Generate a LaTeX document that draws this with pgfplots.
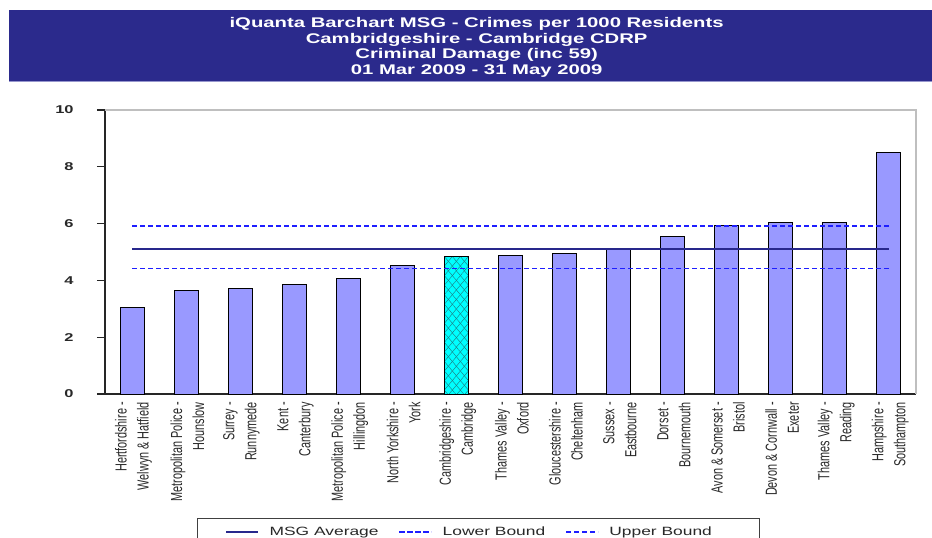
\documentclass[border=0pt]{standalone}
\usepackage{fontspec}
\setmainfont{Liberation Sans}
\newfontfamily\widefont[FakeStretch=1.45]{Liberation Sans}
\newfontfamily\labelfont[FakeStretch=0.68]{Liberation Sans}
\usepackage{pgfplots}
\pgfplotsset{compat=1.18}
\usetikzlibrary{patterns.meta}
\definecolor{banner}{RGB}{43,42,140}
\definecolor{bannerline}{RGB}{150,150,205}
\definecolor{barblue}{RGB}{153,153,255}
\definecolor{navy}{RGB}{40,40,140}
\definecolor{dashblue}{RGB}{30,30,255}
\definecolor{txt}{RGB}{40,40,40}
\definecolor{hatch}{RGB}{30,120,125}
\definecolor{cyanfill}{RGB}{0,255,255}

\pgfplotstableread{
x y
1 3.03
2 3.66
3 3.73
4 3.84
5 4.05
6 4.54
8 4.88
9 4.96
10 5.10
11 5.56
12 5.92
13 6.03
14 6.03
15 8.51
}\bars
\pgfplotstableread{
x y
7 4.83
}\cambs

\begin{document}
\begin{tikzpicture}
% banner
\fill[banner] (6.75pt,-7.5pt) rectangle (699pt,-61.5pt);
\draw[bannerline, line width=0.75pt] (6.75pt,-61.5pt) -- (699pt,-61.5pt);
\node[align=center, text=white, inner sep=0pt,
      font=\widefont\bfseries\fontsize{10.5}{11.8}\selectfont]
  at (357.5pt,-35.5pt)
  {iQuanta Barchart MSG - Crimes per 1000 Residents\\
   Cambridgeshire - Cambridge CDRP\\
   Criminal Damage (inc 59)\\
   01 Mar 2009 - 31 May 2009};

\begin{axis}[
  at={(78.75pt,-295.5pt)}, anchor=south west,
  scale only axis, width=608.25pt, height=213pt,
  xmin=0.5, xmax=15.5, ymin=0, ymax=10,
  axis x line=bottom, axis y line=left,
  axis line style={-, black!85, line width=0.8pt},
  tick align=outside, major tick length=6pt, minor tick length=6pt,
  ytick={0,2,4,6,8,10},
  xtick={1,...,15},
  minor xtick={0.5,1.5,...,15.5},
  xtick style={draw=none},
  minor x tick style={black!85, line width=0.8pt},
  ytick style={black!85, line width=0.8pt},
  /pgf/number format/assume math mode=true,
  yticklabel style={font=\widefont\bfseries\fontsize{8.5}{10}\selectfont, text=txt, anchor=east, xshift=-14pt},
  xticklabels={{Hertfordshire -\\Welwyn \& Hatfield},
               {Metropolitan Police -\\Hounslow},
               {Surrey -\\Runnymede},
               {Kent -\\Canterbury},
               {Metropolitan Police -\\Hillingdon},
               {North Yorkshire -\\York},
               {Cambridgeshire -\\Cambridge},
               {Thames Valley -\\Oxford},
               {Gloucestershire -\\Cheltenham},
               {Sussex -\\Eastbourne},
               {Dorset -\\Bournemouth},
               {Avon \& Somerset -\\Bristol},
               {Devon \& Cornwall -\\Exeter},
               {Thames Valley -\\Reading},
               {Hampshire -\\Southampton}},
  xticklabel style={rotate=90, anchor=east, align=right, text=txt,
                    font=\labelfont\fontsize{12}{16.5}\selectfont, inner sep=0pt, yshift=-1pt},
  legend columns=3,
  legend style={at={(0.1134,-0.4366)}, anchor=north west, draw=black!75, line width=0.8pt,
                font=\widefont\fontsize{9}{11}\selectfont, text=txt,
                inner xsep=21pt, inner ysep=4pt,
                /tikz/every even column/.append style={column sep=13pt}},
  legend image code/.code={\draw[#1] (0pt,0pt) -- (24pt,0pt); \path (30pt,0pt);},
  clip=false,
]
\addplot[ybar, bar width=18pt, bar shift=0pt, fill=barblue, draw=black, line width=0.75pt, forget plot] table {\bars};
\addplot[ybar, bar width=18pt, bar shift=0pt, fill=cyanfill, draw=black, line width=0.75pt, forget plot,
  postaction={pattern={Lines[angle=50,distance=4.6pt,line width=0.3pt]}, pattern color=hatch},
  postaction={pattern={Lines[angle=-50,distance=4.6pt,line width=0.3pt]}, pattern color=hatch}] table {\cambs};
\addplot[navy, line width=1.1pt] coordinates {(1,5.1) (15,5.1)};
\addlegendentry{MSG Average}
\addplot[dashblue, line width=1.1pt, dash pattern=on 4pt off 2pt] coordinates {(1,4.42) (15,4.42)};
\addlegendentry{Lower Bound}
\addplot[dashblue, line width=1.1pt, dash pattern=on 4pt off 2pt] coordinates {(1,5.92) (15,5.92)};
\addlegendentry{Upper Bound\hspace*{13pt}}
\draw[black!25, line width=0.8pt] (rel axis cs:0,1) -- (rel axis cs:1,1) -- (rel axis cs:1,0);
\end{axis}
\pgfresetboundingbox
\path[use as bounding box] (0pt,0pt) rectangle (699pt,-403.5pt);
\end{tikzpicture}
\end{document}
